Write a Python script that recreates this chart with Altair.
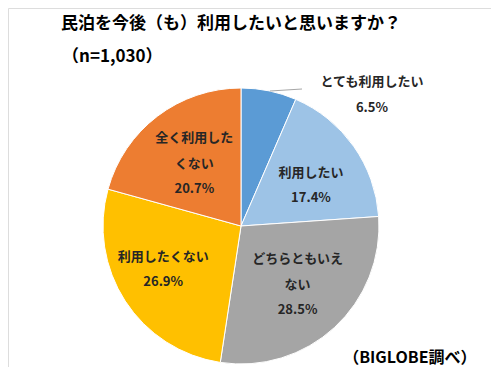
import altair as alt
import pandas as pd

categories = ["とても利用したい", "利用したい", "どちらともいえない", "利用したくない", "全く利用したくない"]
label_lines = [["とても利用したい"], ["利用したい"], ["どちらともいえ", "ない"], ["利用したくない"], ["全く利用した", "くない"]]
values = [6.5, 17.4, 28.5, 26.9, 20.7]
colors = ["#5B9BD5", "#9DC3E6", "#A5A5A5", "#FFC000", "#ED7D31"]
title_text = "民泊を今後（も）利用したいと思いますか？"
subtitle_text = "（n=1,030）"
source_text = "（BIGLOBE調べ）"

FONT = "Noto Sans CJK JP"
CX, CY, R = 233, 218, 138

# label placement (style): radius from centre and pixel nudges per slice
label_style = [
    dict(radius=R, dx=103, dy=-8.5),
    dict(radius=82, dx=3, dy=-6),
    dict(radius=82, dx=1, dy=-27),
    dict(radius=82, dx=-9, dy=-14),
    dict(radius=82, dx=3, dy=-22.5),
]

labels = ["\n".join(l + [f"{v}%"]) for l, v in zip(label_lines, values)]
df = pd.DataFrame({
    "category": categories,
    "value": values,
    "order": list(range(len(categories))),
})
for i in range(len(categories)):
    df[f"l{i}"] = [labels[j] if j == i else "" for j in range(len(categories))]

theta = alt.Theta("value:Q", stack=True)
order = alt.Order("order:Q")

pie = alt.Chart(df).mark_arc(radius=R, stroke="white", strokeWidth=1).encode(
    theta=theta,
    order=order,
    color=alt.Color("category:N", scale=alt.Scale(domain=categories, range=colors), legend=None, sort=None),
    x=alt.value(CX), y=alt.value(CY),
)

label_layers = []
for i, st in enumerate(label_style):
    label_layers.append(
        alt.Chart(df).mark_text(
            font=FONT, fontSize=13, fontWeight="bold", color="#262626",
            lineBreak="\n", lineHeight=25.5, align="center", baseline="middle", **st,
        ).encode(theta=theta, order=order, text=f"l{i}:N", x=alt.value(CX), y=alt.value(CY))
    )

leader = alt.Chart(pd.DataFrame({"a": [0]})).mark_rule(color="#A6A6A6", strokeWidth=1).encode(
    x=alt.value(262), x2=alt.value(294), y=alt.value(83), y2=alt.value(81)
)

texts = pd.DataFrame({"t": [title_text], "s": [subtitle_text], "src": [source_text]})
title = alt.Chart(texts).mark_text(
    font=FONT, fontSize=17, fontWeight="bold", color="black", align="left", baseline="middle"
).encode(text="t:N", x=alt.value(53), y=alt.value(16))
subtitle = alt.Chart(texts).mark_text(
    font=FONT, fontSize=17, fontWeight="bold", color="black", align="left", baseline="middle"
).encode(text="s:N", x=alt.value(54), y=alt.value(49))
source = alt.Chart(texts).mark_text(
    font=FONT, fontSize=16, fontWeight="bold", color="black", align="right", baseline="middle"
).encode(text="src:N", x=alt.value(468.5), y=alt.value(350))

chart = alt.layer(pie, leader, *label_layers, title, subtitle, source).properties(
    width=483, height=359, autosize=alt.AutoSizeParams(type="none"), padding=0,
).configure_view(stroke=None).configure(background="white")

chart.save("out.html", embed_options={"renderer": "svg", "actions": False})
